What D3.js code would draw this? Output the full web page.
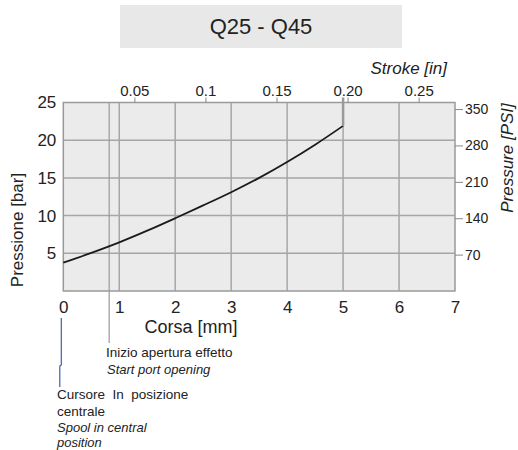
<!DOCTYPE html>
<html>
<head>
<meta charset="utf-8">
<script src="https://cdn.jsdelivr.net/npm/d3@7"></script>
<style>
  html, body { margin: 0; padding: 0; background: #fff; }
  svg { display: block; }
  text { font-family: "Liberation Sans", Arial, sans-serif; fill: #222; }
</style>
</head>
<body>
<svg id="chart" width="518" height="450"></svg>
<script>
// ---- data ----
const strokeMm   = [0, 0.5, 1, 1.5, 2, 2.5, 3, 3.5, 4, 4.5, 5];
const pressBar   = [3.75, 5.05, 6.45, 8.0, 9.65, 11.35, 13.1, 15.0, 17.1, 19.4, 21.9];
const xTicksMm   = [0, 1, 2, 3, 4, 5, 6, 7];
const yTicksBar  = [5, 10, 15, 20, 25];
const xTicksIn   = [0.05, 0.1, 0.15, 0.2, 0.25];
const xTickInLbl = ["0.05", "0.1", "0.15", "0.20", "0.25"];
const yTicksPsi  = [70, 140, 210, 280, 350];
const startPortMm = 0.82;
const title = "Q25 - Q45";

// ---- layout ----
const svg = d3.select("#chart");
const L = 63.3, R = 455, T = 102.5, B = 291;

const x = d3.scaleLinear().domain([0, 7]).range([L, R]);
const y = d3.scaleLinear().domain([0, 25]).range([B, T]);
const xIn = d3.scaleLinear().domain([0, 7 / 25.4]).range([L, R]);
const yPsi = d3.scaleLinear().domain([0, 25 * 14.5038]).range([B, T]);

// title box
svg.append("rect").attr("x", 120).attr("y", 5).attr("width", 282).attr("height", 43)
  .attr("fill", "#e8e8e8");
svg.append("text").attr("x", 261).attr("y", 34).attr("text-anchor", "middle")
  .style("font-size", "22px").text(title);

// plot background
svg.append("rect").attr("x", L).attr("y", T).attr("width", R - L).attr("height", B - T)
  .attr("fill", "#ebebeb");

// grid
const gridColor = "#a6a6a6";
svg.append("g").selectAll("line").data(xTicksMm.filter(d => d > 0 && d < 7)).join("line")
  .attr("x1", d => x(d)).attr("x2", d => x(d)).attr("y1", T).attr("y2", B)
  .attr("stroke", gridColor).attr("stroke-width", 1.5);
svg.append("g").selectAll("line").data(yTicksBar.filter(d => d < 25)).join("line")
  .attr("x1", L).attr("x2", R).attr("y1", d => y(d)).attr("y2", d => y(d))
  .attr("stroke", gridColor).attr("stroke-width", 1.5);

// start port opening line (extends below plot)
svg.append("line").attr("x1", x(startPortMm)).attr("x2", x(startPortMm))
  .attr("y1", T).attr("y2", 343).attr("stroke", "#9a9a9a").attr("stroke-width", 1.2);

// border
svg.append("rect").attr("x", L).attr("y", T).attr("width", R - L).attr("height", B - T)
  .attr("fill", "none").attr("stroke", "#9a9a9a").attr("stroke-width", 1.5);

// curve
const line = d3.line().x((d, i) => x(strokeMm[i])).y(d => y(d)).curve(d3.curveCatmullRom);
svg.append("path").datum(pressBar).attr("d", line)
  .attr("fill", "none").attr("stroke", "#1a1a1a").attr("stroke-width", 1.8);

// end segment at 5 mm
const lastX = strokeMm[strokeMm.length - 1];
svg.append("line").attr("x1", x(lastX)).attr("x2", x(lastX))
  .attr("y1", y(pressBar[pressBar.length - 1])).attr("y2", T - 5)
  .attr("stroke", "#999").attr("stroke-width", 2.5);

// axes
const axisFont = "Liberation Sans, Arial, sans-serif";
const gl = svg.append("g").attr("transform", `translate(${L},0)`)
  .call(d3.axisLeft(y).tickValues(yTicksBar).tickSize(0).tickPadding(7));
gl.select(".domain").remove();
gl.selectAll("text").style("font-size", "17px").attr("fill", "#222").style("font-family", axisFont);

const gb = svg.append("g").attr("transform", `translate(0,${B})`)
  .call(d3.axisBottom(x).tickValues(xTicksMm).tickSize(0).tickPadding(10).tickFormat(d3.format("d")));
gb.select(".domain").remove();
gb.selectAll("text").style("font-size", "17px").attr("fill", "#222").style("font-family", axisFont);

const gt = svg.append("g").attr("transform", `translate(0,${T})`)
  .call(d3.axisTop(xIn).tickValues(xTicksIn).tickSize(5).tickPadding(2)
    .tickFormat((d, i) => xTickInLbl[i]));
gt.select(".domain").remove();
gt.selectAll("line").attr("stroke", "#888");
gt.selectAll("text").style("font-size", "15px").attr("fill", "#222").style("font-family", axisFont);

const gr = svg.append("g").attr("transform", `translate(${R},0)`)
  .call(d3.axisRight(yPsi).tickValues(yTicksPsi).tickSize(8).tickPadding(2));
gr.select(".domain").remove();
gr.selectAll("line").attr("stroke", "#888");
gr.selectAll("text").style("font-size", "14px").attr("fill", "#222").style("font-family", axisFont);

// axis titles
svg.append("text").attr("x", 447).attr("y", 74).attr("text-anchor", "end")
  .style("font-size", "17px").style("font-style", "italic").text("Stroke [in]");
svg.append("text").attr("x", 191).attr("y", 333).attr("text-anchor", "middle")
  .style("font-size", "18px").text("Corsa [mm]");
svg.append("text").attr("transform", "translate(23,230) rotate(-90)").attr("text-anchor", "middle")
  .style("font-size", "17px").text("Pressione [bar]");
svg.append("text").attr("transform", "translate(513,158) rotate(-90)").attr("text-anchor", "middle")
  .style("font-size", "17px").style("font-style", "italic").text("Pressure [PSI]");

// annotations
svg.append("text").attr("x", 106).attr("y", 357).style("font-size", "13.5px")
  .text("Inizio apertura effetto");
svg.append("text").attr("x", 107).attr("y", 374).style("font-size", "13px").style("font-style", "italic")
  .text("Start port opening");

const x0 = x(0);
svg.append("path")
  .attr("d", `M${x0 - 2},318 V365 L${x0 - 3.5},366 V387`)
  .attr("fill", "none").attr("stroke", "#3a5fae").attr("stroke-width", 1.2);

const noteLines = [
  {t: "Cursore\u00a0\u00a0In\u00a0\u00a0posizione", y: 399, it: false},
  {t: "centrale", y: 415.5, it: false},
  {t: "Spool in central", y: 431.5, it: true},
  {t: "position", y: 447, it: true}
];
svg.append("g").selectAll("text").data(noteLines).join("text")
  .attr("x", 57).attr("y", d => d.y).style("font-size", d => d.it ? "13px" : "13.5px")
  .style("font-style", d => d.it ? "italic" : "normal").text(d => d.t);
</script>
</body>
</html>
